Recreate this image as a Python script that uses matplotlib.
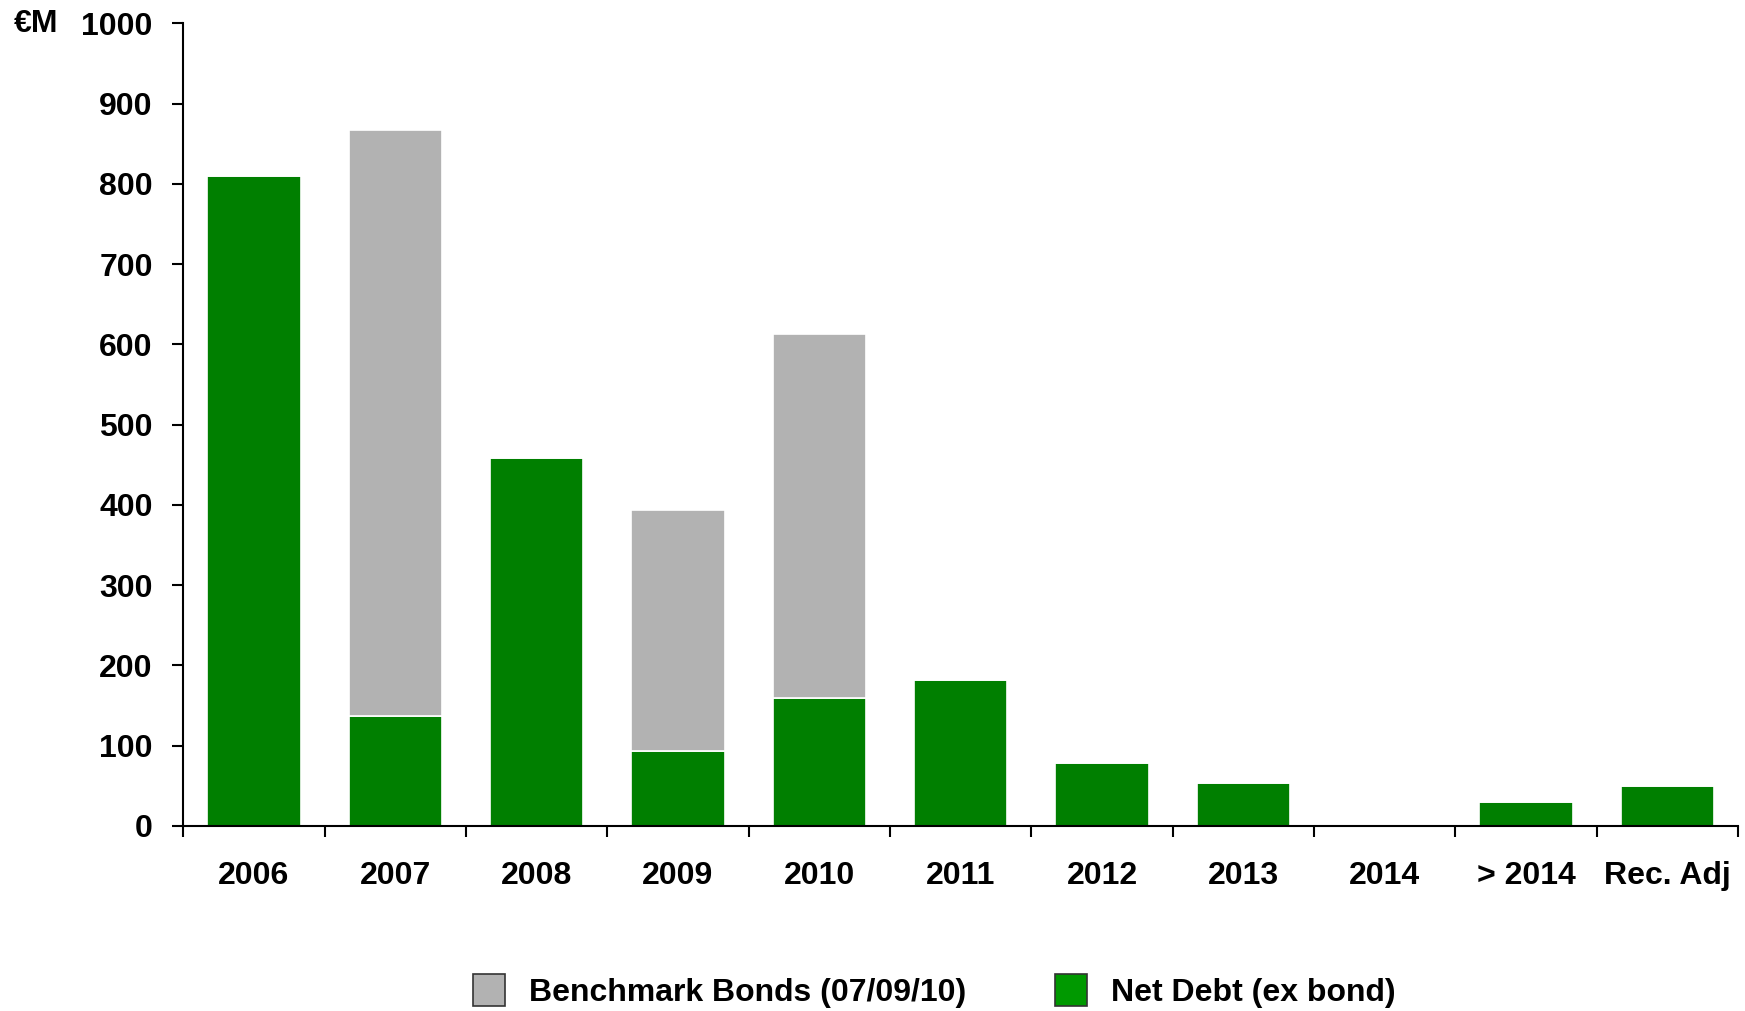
import numpy as np
import matplotlib
matplotlib.use('Agg')
import matplotlib.pyplot as plt
from matplotlib.patches import Patch

plt.rcParams['font.family'] = ['Liberation Sans', 'DejaVu Sans']
plt.rcParams['font.weight'] = 'bold'

# ── data (EUR millions) ──────────────────────────────────────────────────────
categories = ['2006', '2007', '2008', '2009', '2010', '2011', '2012',
              '2013', '2014', '> 2014', 'Rec. Adj']
net_debt = [810, 137, 459, 94, 160, 182, 78, 53, 0, 30, 50]
bonds    = [0, 730, 0, 300, 453, 0, 0, 0, 0, 0, 0]

GREEN = '#007f00'
GREY = '#b2b2b2'
FS = 23

fig = plt.figure(figsize=(17.45, 10.11), dpi=100)
ax = fig.add_axes([0.105, 0.183, 0.891, 0.794])

x = np.arange(len(categories))
ax.bar(x, net_debt, width=0.66, color=GREEN, edgecolor='white', linewidth=1.2)
ax.bar(x, bonds, width=0.66, bottom=net_debt, color=GREY,
       edgecolor='white', linewidth=1.2)

ax.set_xlim(-0.5, len(categories) - 0.5)
ax.set_ylim(0, 1000)
ax.set_yticks(np.arange(0, 1001, 100))

# category labels centred, tick marks at the category boundaries
ax.set_xticks(x)
ax.set_xticklabels(categories, fontsize=FS, fontweight='bold')
ax.tick_params(axis='x', length=0, pad=25)
ax.set_xticks(np.arange(-0.5, len(categories)), minor=True)
ax.tick_params(axis='x', which='minor', length=8, width=1.5, direction='out')
ax.tick_params(axis='y', length=8, width=1.5, direction='out', pad=14,
               labelsize=FS)
for lab in ax.get_yticklabels():
    lab.set_fontweight('bold')

for side in ['top', 'right']:
    ax.spines[side].set_visible(False)
for side in ['left', 'bottom']:
    ax.spines[side].set_linewidth(1.5)

fig.text(0.008, 0.976, '€M', fontsize=FS, fontweight='bold', va='center')

handles = [Patch(facecolor=GREY, edgecolor='#333333', linewidth=1.2),
           Patch(facecolor='#009900', edgecolor='#333333', linewidth=1.2)]
fig.legend(handles, ['Benchmark Bonds (07/09/10)', 'Net Debt (ex bond)'],
           loc='center', bbox_to_anchor=(0.5354, 0.02), ncol=2, frameon=False,
           handlelength=1.0, handleheight=1.2,
           columnspacing=2.8, handletextpad=0.75,
           prop={'weight': 'bold', 'size': FS})

fig.savefig('out.png', dpi=100)
